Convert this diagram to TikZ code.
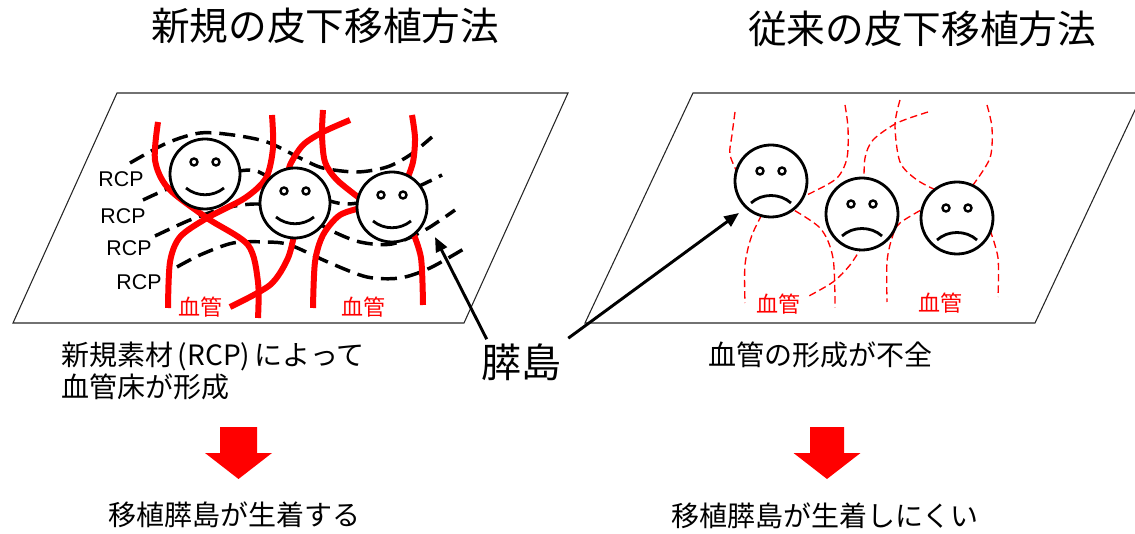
\documentclass[tikz,border=0pt]{standalone}
\usepackage{fontspec}
\newfontfamily\jpfont{Noto Sans CJK JP}
\newfontfamily\rcpfont{Liberation Sans}
\usetikzlibrary{arrows.meta}

\tikzset{
  layer/.style={line width=0.8pt,draw=black!85},
  face/.style={circle,draw,fill=white,line width=2.1pt,inner sep=0pt,minimum size=52.5pt},
  sadface/.style={face,minimum size=54pt},
  rcpsheet/.style={line width=2.6pt,dash pattern=on 12pt off 6pt},
  vessel/.style={red,line width=4.5pt},
  weakvessel/.style={red,line width=1pt,dash pattern=on 5.5pt off 3pt},
  title/.style={font=\jpfont\fontsize{29}{32}\selectfont},
  note/.style={font=\jpfont\fontsize{21}{24}\selectfont,inner sep=0pt},
  veslabel/.style={red,font=\jpfont\fontsize{16.5}{18}\selectfont},
  rcplabel/.style={font=\rcpfont\fontsize{16}{18}\selectfont},
  pointer/.style={line width=2.2pt,-{Triangle[length=11pt,width=9pt]}}
}

\begin{document}
\begin{tikzpicture}[x=0.75pt,y=-0.75pt]
\useasboundingbox (0,0) rectangle (1135,534);
\clip (0,0) rectangle (1135,534);

% titles
\node[title] (newTitle) at (325,26) {新規の皮下移植方法};
\node[title] (oldTitle) at (922,29) {従来の皮下移植方法};

% the two skin layers
\draw[layer] (117,93) -- (568,93) -- (464,323) -- (13,323) -- cycle;
\draw[layer] (693,93) -- (1143,93) -- (1035,323) -- (585,323) -- cycle;

% RCP sheets
\draw[rcpsheet] plot[smooth] coordinates {(130,163) (167,143) (200,133) (233,135) (267,142) (300,158) (323,168) (357,172) (387,167) (410,155) (432,137)};
\draw[rcpsheet] plot[smooth] coordinates {(143,200) (175,186) (215,175) (250,170) (265,175) (290,188) (320,198) (345,204) (375,200) (410,190) (442,175)};
\draw[rcpsheet] plot[smooth] coordinates {(155,236) (190,220) (225,208) (258,204) (295,210) (330,230) (360,242) (392,244) (425,230) (455,210)};
\draw[rcpsheet] plot[smooth] coordinates {(177,267) (200,255) (233,243) (267,242) (290,245) (330,263) (367,277) (400,278) (430,268) (467,247)};

\foreach \i/\x/\y in {1/121/179, 2/123/216, 3/129/248, 4/139/282}
  \node[rcplabel] (rcp\i) at (\x,\y) {RCP};

% vessels grown into the RCP bed
\draw[vessel] plot[smooth] coordinates {(158,122) (155,160) (168,188) (207,218) (248,245) (258,282) (258,318)};
\draw[vessel] plot[smooth] coordinates {(272,115) (273,148) (266,178) (245,198) (207,218) (180,237) (170,262) (168,308)};
\draw[vessel] plot[smooth] coordinates {(350,120) (323,132) (303,145) (290,165) (288,178)};
\draw[vessel] plot[smooth] coordinates {(323,110) (322,135) (325,162) (337,180) (362,200)};
\draw[vessel] plot[smooth] coordinates {(412,115) (415,138) (413,162) (406,182)};
\draw[vessel] plot[smooth] coordinates {(295,230) (288,258) (270,285) (230,307)};
\draw[vessel] plot[smooth] coordinates {(365,207) (340,215) (323,235) (315,262) (313,308)};
\draw[vessel] plot[smooth] coordinates {(412,230) (421,258) (423,305)};

\node[veslabel] (vesNewA) at (200,307) {血管};
\node[veslabel] (vesNewB) at (363,307) {血管};

% poor vessels without RCP
\draw[weakvessel] plot[smooth] coordinates {(735,112) (732,135) (730,155) (740,178)};
\draw[weakvessel] plot[smooth] coordinates {(845,105) (848,128) (847,158) (837,178) (813,192) (795,200)};
\draw[weakvessel] plot[smooth] coordinates {(928,112) (897,123) (873,140) (865,158) (864,185)};
\draw[weakvessel] plot[smooth] coordinates {(900,100) (895,125) (900,162) (917,180) (940,192)};
\draw[weakvessel] plot[smooth] coordinates {(987,105) (992,128) (990,158) (973,185)};
\draw[weakvessel] plot[smooth] coordinates {(767,205) (752,235) (745,265) (745,303)};
\draw[weakvessel] plot[smooth] coordinates {(785,205) (820,228) (833,258) (835,308)};
\draw[weakvessel] plot[smooth] coordinates {(863,245) (850,265) (833,282) (807,297)};
\draw[weakvessel] plot[smooth] coordinates {(930,205) (900,223) (892,238) (887,262) (887,302)};
\draw[weakvessel] plot[smooth] coordinates {(990,230) (998,258) (998,297)};

\node[veslabel] (vesOldA) at (778,304) {血管};
\node[veslabel] (vesOldB) at (940,303) {血管};

% islets
\foreach \n/\x/\y in {happyA/205/174, happyB/295/203, happyC/392/207} {
  \node[face] (\n) at (\x,\y) {};
  \draw[line width=1.8pt] (\x-11,\y-12) circle[radius=3.5] (\x+11,\y-12) circle[radius=3.5];
  \draw[line width=2.1pt] (\x-19,\y+14) .. controls (\x-8,\y+23) and (\x+8,\y+23) .. (\x+19,\y+14);
}
\foreach \n/\x/\y in {sadA/771/181, sadB/862/214, sadC/957/218} {
  \node[sadface] (\n) at (\x,\y) {};
  \draw[line width=1.8pt] (\x-11,\y-10) circle[radius=3.5] (\x+11,\y-10) circle[radius=3.5];
  \draw[line width=2.1pt] (\x-20,\y+22) .. controls (\x-9,\y+12) and (\x+9,\y+12) .. (\x+20,\y+22);
}

\node[font=\jpfont\fontsize{30}{32}\selectfont,inner sep=0pt] (islet) at (521,362) {膵島};
\coordinate (tipNew) at (435,237);
\coordinate (tipOld) at (739,213);
\draw[pointer] ([shift={(6,-4)}]islet.north west) -- (tipNew);
\draw[pointer] ([shift={(7,-5)}]islet.north east) -- (tipOld);

% notes and results
\node[note,align=left,anchor=west] (newNote) at (61,371) {新規素材\,(RCP)\,によって\\血管床が形成};
\node[note] (oldNote) at (820,355) {血管の形成が不全};

\foreach \c/\s in {238.5/18.5, 827/17}
  \fill[red] (\c-\s,427) -- (\c+\s,427) -- (\c+\s,453) -- (\c+33.5,453) -- (\c,479) -- (\c-33.5,453) -- (\c-\s,453) -- cycle;

\node[note] (newResult) at (234,515) {移植膵島が生着する};
\node[note] (oldResult) at (825,516) {移植膵島が生着しにくい};
\end{tikzpicture}
\end{document}
